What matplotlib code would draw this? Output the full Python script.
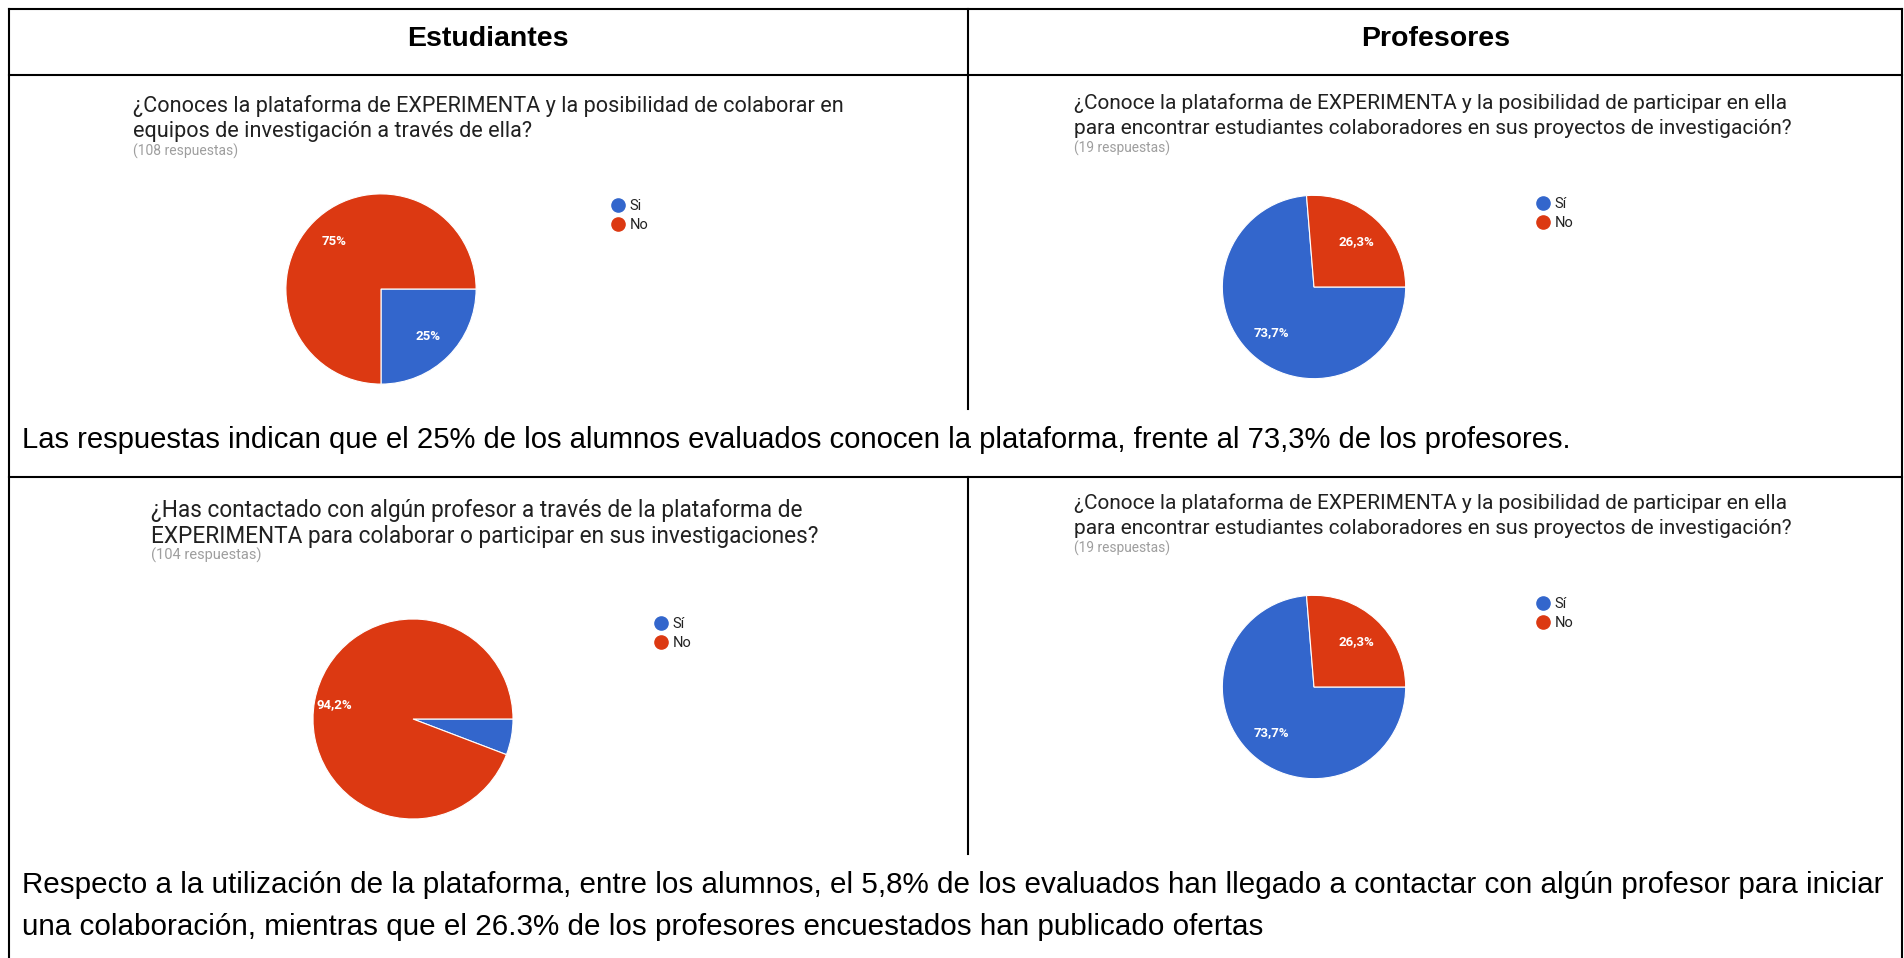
import matplotlib
matplotlib.use('Agg')
import matplotlib.pyplot as plt
from matplotlib.lines import Line2D

# datos de las encuestas
col_headers = ['Estudiantes', 'Profesores']

est_conoce_labels = ['Si', 'No']
est_conoce_vals = [25.0, 75.0]
est_conoce_title = ['¿Conoces la plataforma de EXPERIMENTA y la posibilidad de colaborar en',
                    'equipos de investigación a través de ella?']
est_conoce_n = '(108 respuestas)'

prof_conoce_labels = ['Sí', 'No']
prof_conoce_vals = [73.7, 26.3]
prof_conoce_title = ['¿Conoce la plataforma de EXPERIMENTA y la posibilidad de participar en ella',
                     'para encontrar estudiantes colaboradores en sus proyectos de investigación?']
prof_conoce_n = '(19 respuestas)'

est_contacto_labels = ['Sí', 'No']
est_contacto_vals = [5.8, 94.2]
est_contacto_title = ['¿Has contactado con algún profesor a través de la plataforma de',
                      'EXPERIMENTA para colaborar o participar en sus investigaciones?']
est_contacto_n = '(104 respuestas)'

prof_oferta_labels = ['Sí', 'No']
prof_oferta_vals = [73.7, 26.3]
prof_oferta_title = prof_conoce_title
prof_oferta_n = '(19 respuestas)'

caption1 = 'Las respuestas indican que el 25% de los alumnos evaluados conocen la plataforma, frente al 73,3% de los profesores.'
caption2 = ['Respecto a la utilización de la plataforma, entre los alumnos, el 5,8% de los evaluados han llegado a contactar con algún profesor para iniciar',
            'una colaboración, mientras que el 26.3% de los profesores encuestados han publicado ofertas']

colors = ['#3366CC', '#DC3912']

W, H = 1904, 958
fig = plt.figure(figsize=(W / 100, H / 100), dpi=100)


def fx(x):
    return x / W


def fy(y):
    return 1 - y / H


def line(x0, y0, x1, y1):
    fig.add_artist(Line2D([fx(x0), fx(x1)], [fy(y0), fy(y1)], color='black', lw=1.5))


# lineas de la tabla
line(8.5, 8.5, 1901.5, 8.5)
line(8.5, 75, 1901.5, 75)
line(8.5, 477, 1901.5, 477)
line(8.5, 8.5, 8.5, 958)
line(1901.5, 8.5, 1901.5, 958)
line(968, 8.5, 968, 409)
line(968, 477, 968, 854)

fig.text(fx(488), fy(39), col_headers[0], ha='center', va='center', fontsize=20.5,
         fontweight='bold', family='Liberation Sans')
fig.text(fx(1436), fy(39), col_headers[1], ha='center', va='center', fontsize=20.5,
         fontweight='bold', family='Liberation Sans')

fig.text(fx(22), fy(440), caption1, ha='left', va='center', fontsize=21.1, family='Liberation Sans')
fig.text(fx(22), fy(885), caption2[0], ha='left', va='center', fontsize=21.3, family='Liberation Sans')
fig.text(fx(22), fy(927), caption2[1], ha='left', va='center', fontsize=21.3, family='Liberation Sans')


def pct_fmt(p):
    if p < 10:
        return ''
    if abs(p - round(p)) < 0.05:
        return '%d%%' % round(p)
    return ('%.1f%%' % p).replace('.', ',')


def panel(vals, labels, title, n, cx, cy, r, tx, ty, lx, ly, pctd, fs, nfs):
    # titulo de la pregunta
    fig.text(fx(tx), fy(ty), title[0], ha='left', va='center', fontsize=fs,
             family='Roboto', color='#212121')
    fig.text(fx(tx), fy(ty + 26), title[1], ha='left', va='center', fontsize=fs,
             family='Roboto', color='#212121')
    fig.text(fx(tx), fy(ty + 45), n, ha='left', va='center', fontsize=nfs,
             family='Roboto', color='#9E9E9E')
    ax = fig.add_axes([fx(cx - r), fy(cy + r), 2 * r / W, 2 * r / H])
    wedges, texts, autos = ax.pie(vals, colors=colors, startangle=0, counterclock=False,
                                  autopct=pct_fmt, pctdistance=pctd,
                                  wedgeprops=dict(edgecolor='white', linewidth=0.8))
    for t in autos:
        t.set_color('white')
        t.set_fontsize(9.5)
        t.set_fontweight('bold')
        t.set_family('Roboto')
    ax.set_xlim(-1.02, 1.02)
    ax.set_ylim(-1.02, 1.02)
    ax.set_aspect('equal')
    handles = [Line2D([], [], marker='o', ls='', color=c, markersize=9.5) for c in colors]
    fig.legend(handles, labels, loc='upper left', bbox_to_anchor=(fx(lx), fy(ly)),
               frameon=False, prop={'family': 'Roboto', 'size': 10.5}, labelcolor='#222222',
               handletextpad=0.2, labelspacing=0.35, borderpad=0, handlelength=1.2)


panel(est_conoce_vals, est_conoce_labels, est_conoce_title, est_conoce_n,
      381, 289, 97, 133, 106, 602, 192, 0.7, 15.6, 10)
panel(prof_conoce_vals, prof_conoce_labels, prof_conoce_title, prof_conoce_n,
      1314, 287, 93.5, 1074, 103, 1527, 190, 0.68, 15, 9.9)
panel(est_contacto_vals, est_contacto_labels, est_contacto_title, est_contacto_n,
      413, 719, 102, 151, 510, 645, 610, 0.8, 16.3, 10.5)
panel(prof_oferta_vals, prof_oferta_labels, prof_oferta_title, prof_oferta_n,
      1314, 687, 93.5, 1074, 503, 1527, 590, 0.68, 15, 9.9)

fig.savefig('out.png', dpi=100)
